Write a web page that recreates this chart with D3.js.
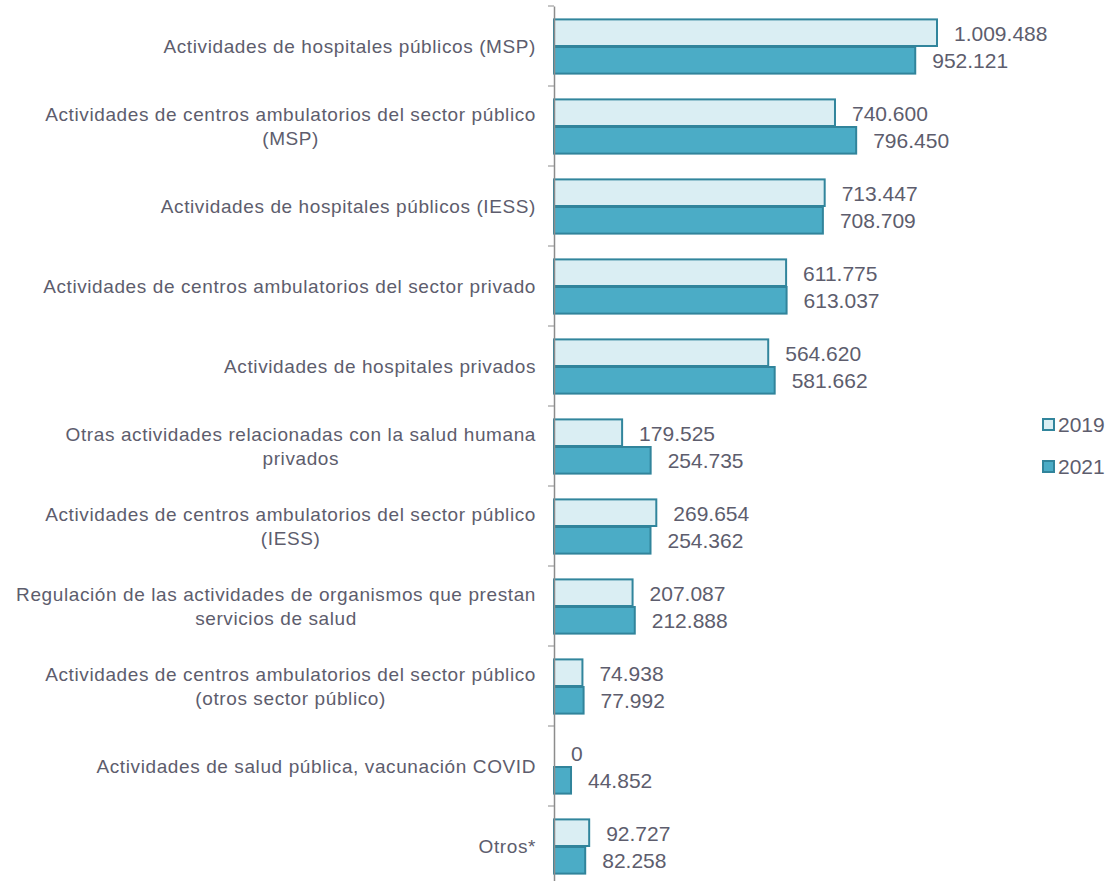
<!DOCTYPE html>
<html>
    <head>
        <meta charset="utf-8">
        <style>
            body {
                margin: 0;
                background: #fff;
                font-family: "Century Gothic", "Liberation Sans", Arial, sans-serif;
            }
            .cat-label {
                font-size: 19px;
                letter-spacing: 0.6px;
                fill: #5d5d6d;
            }
            .val-label {
                font-size: 21px;
                fill: #5d5d6d;
            }
            .legend text {
                font-size: 21px;
                fill: #5d5d6d;
            }
            .axis path, .axis line {
                stroke: #8c8c8c;
            }
        </style>
    </head>
    <body>
        <script src="https://d3js.org/d3.v7.min.js"></script>
        <script>
            // categories (line breaks as in the original)
            const categories = [
                "Actividades de hospitales públicos (MSP)",
                "Actividades de centros ambulatorios del sector público\n(MSP)",
                "Actividades de hospitales públicos (IESS)",
                "Actividades de centros ambulatorios del sector privado",
                "Actividades de hospitales privados",
                "Otras actividades relacionadas con la salud humana\nprivados",
                "Actividades de centros ambulatorios del sector público\n(IESS)",
                "Regulación de las actividades de organismos que prestan\nservicios de salud",
                "Actividades de centros ambulatorios del sector público\n(otros sector público)",
                "Actividades de salud pública, vacunación COVID",
                "Otros*"
            ];
            const years = ["2019", "2021"];
            const values2019 = [1009488, 740600, 713447, 611775, 564620, 179525, 269654, 207087, 74938, 0, 92727];
            const values2021 = [952121, 796450, 708709, 613037, 581662, 254735, 254362, 212888, 77992, 44852, 82258];

            const width = 1109;
            const height = 881;
            const axisX = 554;

            const svg = d3.select("body").append("svg")
                .attr("width", width)
                .attr("height", height);

            const yScale = d3.scaleBand()
                .domain(categories)
                .range([6, 886])
                .paddingInner(0.31)
                .paddingOuter(0.155);

            const sub = d3.scaleBand()
                .domain(years)
                .range([0, yScale.bandwidth()]);

            const xScale = d3.scaleLinear()
                .domain([0, 1009488])
                .range([axisX, 937]);

            const fmt = d3.formatLocale({decimal: ",", thousands: ".", grouping: [3], currency: ["", ""]}).format(",d");

            const colors = {
                "2019": {fill: "#daeef3", stroke: "#31859c"},
                "2021": {fill: "#4bacc6", stroke: "#31849b"}
            };

            const rows = categories.map((c, i) => ({
                cat: c,
                vals: [{year: "2019", v: values2019[i]}, {year: "2021", v: values2021[i]}]
            }));

            const group = svg.selectAll(".row")
                .data(rows)
                .join("g")
                .attr("class", "row")
                .attr("transform", d => "translate(0," + yScale(d.cat) + ")");

            group.selectAll("rect")
                .data(d => d.vals.filter(v => v.v > 0))
                .join("rect")
                .attr("x", xScale(0))
                .attr("y", d => sub(d.year) + 1)
                .attr("width", d => xScale(d.v) - xScale(0))
                .attr("height", sub.bandwidth() - 1)
                .attr("fill", d => colors[d.year].fill)
                .attr("stroke", d => colors[d.year].stroke)
                .attr("stroke-width", 2);

            group.selectAll(".val-label")
                .data(d => d.vals)
                .join("text")
                .attr("class", "val-label")
                .attr("x", d => xScale(d.v) + 17)
                .attr("y", d => sub(d.year) + sub.bandwidth() / 2 + 1)
                .attr("dy", "0.35em")
                .text(d => fmt(d.v));

            // category axis
            const yAxis = d3.axisLeft(yScale).tickSize(0).tickFormat("");
            const axisG = svg.append("g")
                .attr("class", "axis")
                .attr("transform", "translate(" + axisX + ",0)")
                .call(yAxis);
            axisG.select(".domain").attr("stroke-width", 1.5);

            const step = yScale.step();
            const tickYs = d3.range(categories.length + 1).map(i => 6 + i * step);
            axisG.selectAll(".sep")
                .data(tickYs)
                .join("line")
                .attr("class", "sep")
                .attr("x1", -6).attr("x2", 0)
                .attr("y1", d => d).attr("y2", d => d)
                .attr("stroke", "#8c8c8c");

            // category labels
            const labels = svg.selectAll(".cat-label")
                .data(categories)
                .join("text")
                .attr("class", "cat-label")
                .attr("text-anchor", "end")
                .attr("x", 536)
                .attr("y", d => yScale(d) + yScale.bandwidth() / 2);
            labels.each(function(d) {
                const lines = d.split("\n");
                const t = d3.select(this);
                const lh = 24;
                lines.forEach((l, j) => {
                    t.append("tspan")
                        .attr("x", 536)
                        .attr("y", yScale(d) + yScale.bandwidth() / 2 + (j - (lines.length - 1) / 2) * lh)
                        .attr("dy", "0.35em")
                        .attr("text-anchor", lines.length > 1 && j > 0 ? "middle" : "end")
                        .text(l);
                });
            });
            // centre the second line under the first
            labels.each(function() {
                const spans = d3.select(this).selectAll("tspan").nodes();
                if (spans.length > 1) {
                    const w = spans[0].getComputedTextLength();
                    d3.select(spans[1]).attr("x", 536 - w / 2);
                }
            });

            // legend
            const legend = svg.append("g").attr("class", "legend")
                .attr("transform", "translate(1043,0)");
            const ly = d3.scalePoint().domain(years).range([424, 466]);
            legend.selectAll("rect")
                .data(years)
                .join("rect")
                .attr("x", 0)
                .attr("y", d => ly(d) - 5)
                .attr("width", 11)
                .attr("height", 11)
                .attr("fill", d => colors[d].fill)
                .attr("stroke", d => colors[d].stroke)
                .attr("stroke-width", 2);
            legend.selectAll("text")
                .data(years)
                .join("text")
                .attr("x", 15)
                .attr("y", d => ly(d) + 1)
                .attr("dy", "0.35em")
                .text(d => d);
        </script>
    </body>
</html>
